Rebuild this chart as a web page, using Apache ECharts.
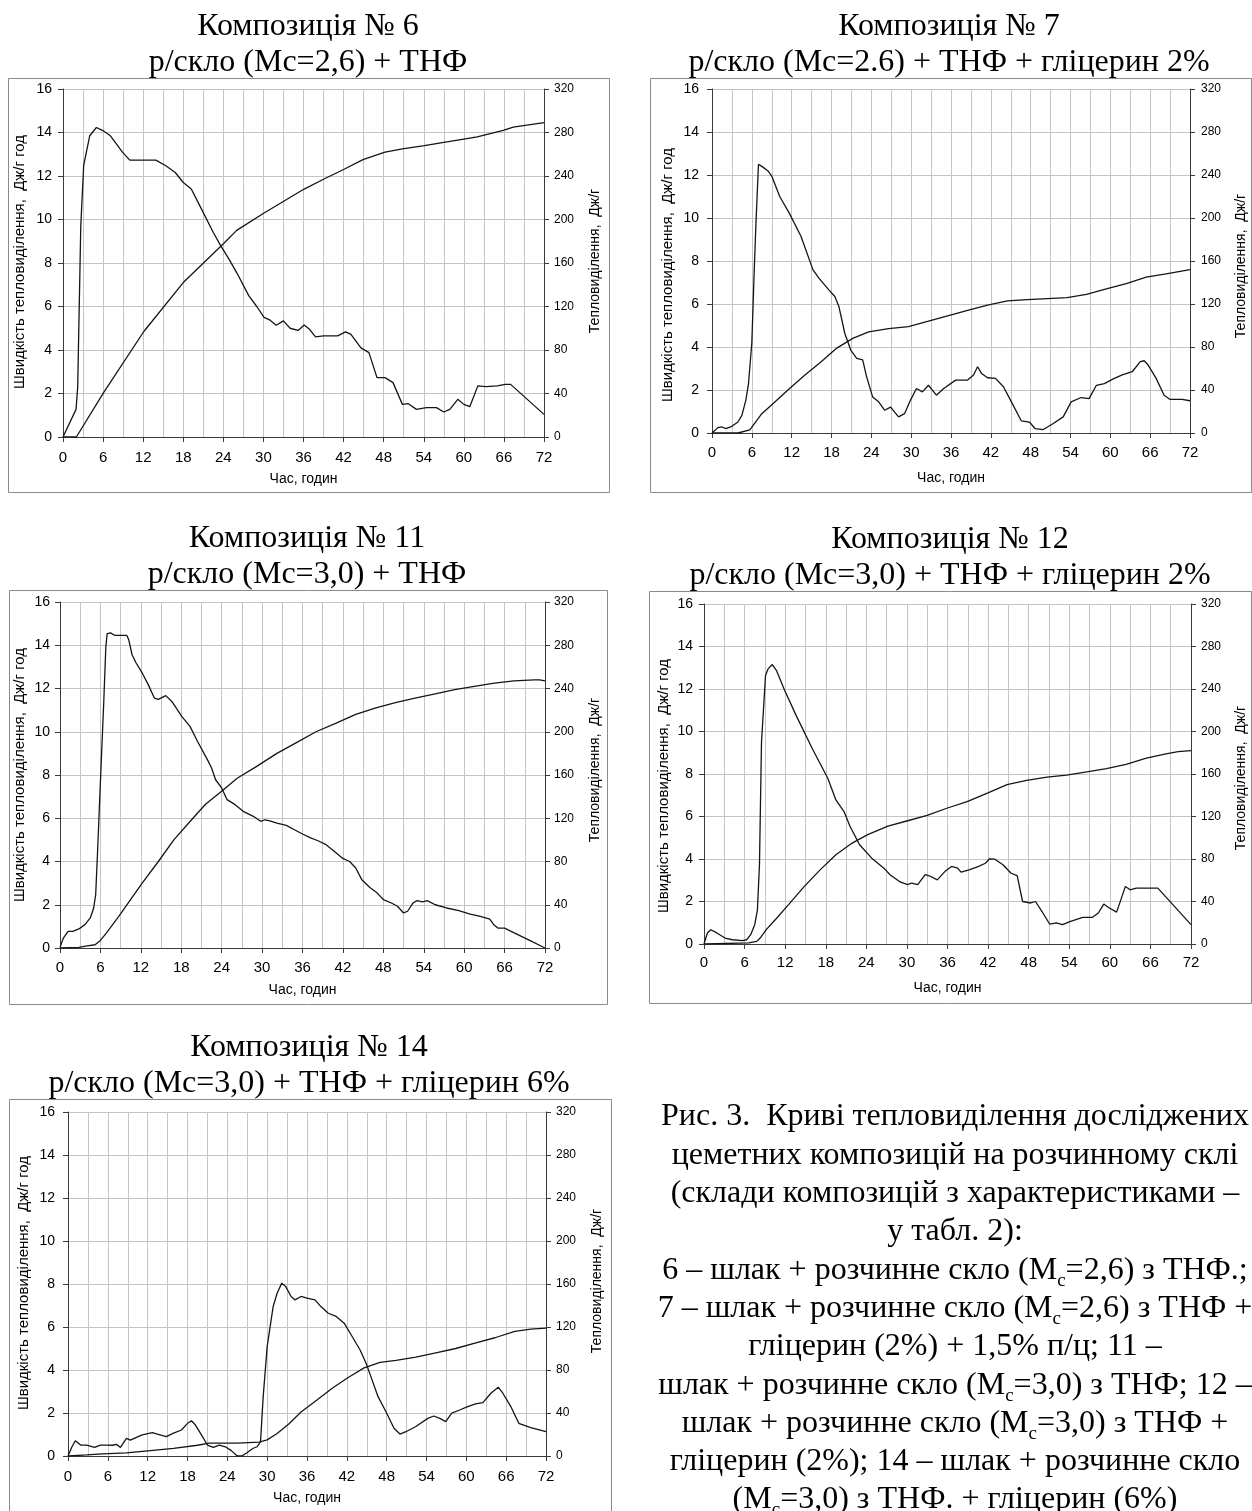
<!DOCTYPE html>
<html><head><meta charset="utf-8">
<script src="https://cdn.jsdelivr.net/npm/echarts/dist/echarts.min.js"></script>
<style>html,body{margin:0;padding:0;background:#fff}#c{width:1252px;height:1511px}</style>
</head><body><div id="c"></div>
<script>
// ---------- DATA ----------
const xTicks = [0, 6, 12, 18, 24, 30, 36, 42, 48, 54, 60, 66, 72];
const rateTicks = [0, 2, 4, 6, 8, 10, 12, 14, 16];
const heatTicks = [0, 40, 80, 120, 160, 200, 240, 280, 320];

const xTitle = 'Час, годин';
const rateTitle = 'Швидкість тепловиділення,  Дж/г год';
const heatTitle = 'Тепловиділення,  Дж/г';

const titles1 = ['Композиція № 6', 'Композиція № 7', 'Композиція № 11', 'Композиція № 12', 'Композиція № 14'];
const titles2 = ['р/скло (Мс=2,6) + ТНФ', 'р/скло (Мс=2.6) + ТНФ + гліцерин 2%', 'р/скло (Мс=3,0) + ТНФ',
                 'р/скло (Мс=3,0) + ТНФ + гліцерин 2%', 'р/скло (Мс=3,0) + ТНФ + гліцерин 6%'];

const rate6 = [[0,0],[1.95,1.27],[2.2,2.3],[2.66,9.7],[3.1,12.5],[4.0,13.85],[5.0,14.23],[5.9,14.1],[7.1,13.85],[8.9,13.1],[10.0,12.73],[13.9,12.73],[15.4,12.47],[16.8,12.16],[18.0,11.7],[19.2,11.4],[20.7,10.5],[22.5,9.4],[23.6,8.8],[24.8,8.2],[26,7.56],[27.8,6.5],[29.0,6.0],[30.1,5.5],[31.0,5.37],[31.9,5.14],[33.0,5.34],[34.0,5.0],[35.2,4.9],[36.1,5.15],[36.9,4.95],[37.8,4.6],[39.0,4.65],[41.1,4.65],[42.3,4.83],[43.1,4.72],[44.6,4.1],[45.8,3.88],[47.0,2.73],[48.2,2.73],[49.4,2.5],[50.8,1.5],[51.7,1.53],[52.9,1.27],[54.4,1.35],[55.9,1.35],[57.0,1.15],[57.9,1.27],[59.1,1.73],[60.0,1.5],[60.9,1.4],[62.1,2.35],[63.3,2.32],[65.0,2.35],[66.2,2.42],[67.0,2.42],[72,1.04]];
const heat6 = [[0,0],[2,0],[6.1,41],[12.1,97],[18,142],[23.9,177],[26,190],[30.1,206],[33.1,217],[36.1,228],[39,237],[42,246],[44.9,255],[48.2,262],[50.8,265],[54.1,268],[57,271],[60,274],[62,276],[65.9,282],[67.4,285],[72,289]];

const rate7 = [[0,0],[0.9,0.25],[1.5,0.28],[2.1,0.2],[3.0,0.31],[3.9,0.51],[4.5,0.82],[5.1,1.53],[5.5,2.3],[6.0,4.2],[6.3,7.0],[6.6,9.6],[7.0,12.5],[7.5,12.4],[8.4,12.2],[9.0,11.95],[10.2,11.0],[11.6,10.25],[13.4,9.15],[15.2,7.6],[16.1,7.2],[17.6,6.66],[18.5,6.35],[19.1,5.9],[20.0,4.64],[20.9,3.86],[21.8,3.47],[22.7,3.4],[23.3,2.6],[24.2,1.68],[25.1,1.45],[26.0,1.06],[26.9,1.2],[28.1,0.75],[29.0,0.9],[29.9,1.53],[30.8,2.07],[31.7,1.91],[32.6,2.22],[33.8,1.76],[34.9,2.07],[36.7,2.46],[38.5,2.46],[39.4,2.7],[40.0,3.08],[40.6,2.77],[41.5,2.57],[42.7,2.54],[43.9,2.15],[45.1,1.45],[46.6,0.56],[47.8,0.51],[48.7,0.2],[49.9,0.16],[51.4,0.44],[52.9,0.75],[54.1,1.45],[55.6,1.65],[56.8,1.6],[57.9,2.22],[59.1,2.3],[60.6,2.54],[61.8,2.7],[63.3,2.85],[64.5,3.32],[65.1,3.36],[65.7,3.16],[66.9,2.54],[68.1,1.76],[69.0,1.56],[70.8,1.56],[72,1.5]];
const heat7 = [[0,0],[3.9,0],[5.7,3],[6.0,4.7],[7.5,18],[9.3,28],[11.6,41],[14.0,54],[16.4,66],[18.8,79],[21.2,88],[23.6,94],[26.6,97],[29.6,99],[32.6,104],[35.5,109],[38.5,114],[41.5,119],[44.5,123],[47.5,124],[50.5,125],[53.5,126],[56.4,129],[59.4,134],[62.4,139],[65.4,145],[68.4,148],[72,152]];

const rate11 = [[0,0.03],[0.5,0.46],[1.2,0.77],[1.9,0.77],[2.8,0.88],[3.7,1.08],[4.5,1.39],[5.0,1.85],[5.3,2.47],[5.6,4.62],[6.0,7.7],[6.5,11.4],[6.8,13.9],[7.0,14.54],[7.5,14.57],[8.1,14.46],[9.9,14.46],[10.2,14.26],[10.7,13.56],[11.3,13.18],[12.2,12.72],[13.1,12.18],[14.0,11.56],[14.6,11.5],[15.7,11.67],[16.6,11.4],[18.1,10.7],[19.3,10.25],[20.4,9.56],[21.9,8.7],[22.5,8.32],[23.1,7.78],[24.0,7.4],[24.8,6.86],[26.0,6.63],[27.2,6.32],[28.7,6.09],[29.8,5.86],[30.4,5.93],[31.0,5.89],[32.2,5.78],[33.6,5.67],[34.8,5.47],[36.0,5.27],[37.2,5.09],[38.3,4.96],[39.5,4.78],[40.7,4.47],[41.9,4.16],[43.0,4.0],[43.9,3.7],[44.8,3.16],[46.0,2.8],[47.1,2.54],[48.0,2.24],[49.2,2.08],[50.1,1.93],[51.0,1.62],[51.6,1.7],[52.4,2.08],[53.0,2.19],[53.8,2.13],[54.5,2.19],[55.7,2.0],[57.4,1.85],[59.2,1.73],[60.9,1.57],[62.4,1.46],[63.8,1.34],[64.4,1.08],[65.0,0.92],[66.0,0.92],[67.5,0.69],[69.8,0.34],[72,0]];
const heat11 = [[0,0],[2.8,0.6],[4.0,2],[5.2,3],[6.0,7],[6.9,14],[8.7,29],[10.5,45],[12.2,60],[14.6,80],[16.9,100],[19.3,117],[21.6,133],[24.0,145],[26.3,157],[29.2,168],[32.2,180],[35.1,190],[38.0,200],[41.0,208],[43.9,216],[46.9,222],[49.8,227],[52.7,231],[55.7,235],[58.6,239],[61.5,242],[64.5,245],[67.4,247],[70.4,248],[71.2,248],[72,247]];

const rate12 = [[0,0],[0.5,0.52],[1.0,0.67],[1.9,0.52],[3.1,0.28],[4.2,0.2],[5.7,0.16],[6.3,0.2],[6.9,0.44],[7.5,0.91],[7.9,1.61],[8.2,3.73],[8.5,9.5],[9.1,12.65],[9.5,12.96],[10.1,13.15],[10.7,12.88],[11.9,11.95],[13.6,10.77],[16.0,9.2],[18.3,7.8],[19.5,6.78],[20.7,6.23],[21.6,5.53],[23.0,4.67],[24.8,4.04],[26.6,3.57],[27.5,3.26],[28.9,2.94],[30.1,2.79],[30.7,2.87],[31.6,2.79],[32.7,3.26],[33.3,3.21],[34.5,3.02],[35.7,3.44],[36.6,3.65],[37.5,3.57],[38.0,3.38],[39.2,3.49],[40.6,3.65],[41.6,3.8],[42.2,4.0],[43.0,3.99],[44.2,3.73],[45.4,3.33],[46.3,3.22],[47.1,2.0],[48.3,1.93],[49.0,2.0],[50.1,1.46],[51.1,0.94],[52.1,0.99],[53.0,0.91],[54.2,1.06],[56.0,1.25],[57.4,1.25],[58.3,1.46],[59.1,1.88],[59.8,1.72],[61.0,1.5],[61.8,2.24],[62.3,2.71],[63.0,2.55],[63.9,2.63],[67.1,2.63],[72,0.91]];
const heat12 = [[0,0],[6.6,1],[7.8,2.5],[8.3,5.6],[9.2,13.5],[10.7,24],[12.5,37],[14.8,54],[17.2,70],[19.5,84],[21.9,95],[24.2,103],[27.2,111],[30.1,116],[33.0,121],[36.0,128],[38.9,134],[41.9,142],[44.8,150],[47.7,154],[50.7,157],[53.6,159],[56.6,162],[59.5,165],[62.4,169],[65.4,175],[68.3,179],[70.1,181],[72,182]];

const rate14 = [[0,0],[0.6,0.43],[1.1,0.71],[1.9,0.51],[2.8,0.51],[4.0,0.4],[4.9,0.51],[5.8,0.51],[6.7,0.5],[7.3,0.54],[7.9,0.4],[8.8,0.82],[9.4,0.74],[10.3,0.87],[11.2,0.98],[12.7,1.09],[13.6,1.01],[14.8,0.9],[15.9,1.06],[17.1,1.21],[18.0,1.52],[18.6,1.64],[19.2,1.44],[20.1,0.98],[21.0,0.51],[21.9,0.4],[22.8,0.51],[23.7,0.43],[24.6,0.25],[25.5,0],[26.2,0],[27.0,0.16],[27.9,0.36],[28.5,0.43],[29.0,0.67],[29.4,2.76],[30.0,5.09],[30.9,6.95],[31.5,7.57],[32.2,8.04],[32.8,7.88],[33.6,7.42],[34.2,7.26],[35.1,7.42],[36.0,7.34],[37.2,7.26],[38.1,6.95],[39.2,6.64],[40.4,6.49],[41.6,6.18],[42.8,5.56],[44.0,4.93],[44.9,4.31],[45.8,3.54],[46.7,2.76],[47.9,2.06],[49.1,1.29],[50.0,1.02],[50.9,1.13],[52.4,1.37],[54.2,1.75],[55.1,1.86],[56.0,1.75],[56.9,1.6],[57.8,1.99],[59.0,2.14],[60.2,2.3],[61.4,2.42],[62.5,2.48],[63.7,2.92],[64.8,3.2],[65.5,2.92],[66.7,2.3],[67.9,1.52],[69.7,1.32],[72,1.13]];
const heat14 = [[0,0],[2.8,1],[5.2,2],[8.8,3],[12.4,5],[15.9,7],[19.5,10],[21.3,12],[25.5,12],[28.8,13],[30.0,15],[31.5,21],[33.3,30],[35.1,41],[37.5,52],[39.8,63],[42.2,73],[44.6,82],[47.0,87],[49.4,89],[52.4,92],[55.4,96],[58.4,100],[61.3,105],[64.3,110],[67.3,116],[69.7,118],[72,119]];

const captionLines = [
  'Рис. 3.  Криві тепловиділення досліджених',
  'цеметних композицій на розчинному склі',
  '(склади композицій з характеристиками –',
  'у табл. 2):',
  '6 – шлак + розчинне скло (M{sub|c}=2,6) з ТНФ.;',
  '7 – шлак + розчинне скло (M{sub|c}=2,6) з ТНФ +',
  'гліцерин (2%) + 1,5% п/ц; 11 –',
  'шлак + розчинне скло (M{sub|c}=3,0) з ТНФ; 12 –',
  'шлак + розчинне скло (M{sub|c}=3,0) з ТНФ +',
  'гліцерин (2%); 14 – шлак + розчинне скло',
  '(M{sub|c}=3,0) з ТНФ. + гліцерин (6%)'
];

const rates = [rate6, rate7, rate11, rate12, rate14];
const heats = [heat6, heat7, heat11, heat12, heat14];

// ---------- LAYOUT (pixels) ----------
const layout = [
  {frame:[8,78,609,492],   grid:[63,89,544,437],    tx:308, t1:27,   t2:63,   lt:[20,262],   rt:[595,261],   xg:35, lm:11, rm:10, xm:13},
  {frame:[650,78,1251,492],grid:[712,89,1190,433],  tx:949, t1:27,   t2:63,   lt:[668,275],  rt:[1241,266],  xg:38, lm:13, rm:11, xm:12},
  {frame:[9,590,607,1004], grid:[60,602,545,948],   tx:307, t1:539,  t2:575,  lt:[20,775],   rt:[595,770],   xg:35, lm:10, rm:9,  xm:12},
  {frame:[649,591,1251,1003],grid:[704,604,1191,944],tx:950,t1:540,  t2:576,  lt:[664,786],  rt:[1241,778],  xg:37, lm:11, rm:10, xm:11},
  {frame:[9,1099,611,1530],grid:[68,1112,546,1456], tx:309, t1:1048, t2:1084, lt:[24,1283],  rt:[597,1281],  xg:35, lm:13, rm:10, xm:13}
];

const SANS = '"Liberation Sans", Arial, sans-serif';
const SERIF = '"Liberation Serif", "Times New Roman", serif';
const GRID_C = '#c4c4c4';
const AXIS_C = '#3a3a3a';

const grids = [], xAxes = [], yAxes = [], series = [], graphics = [];

layout.forEach((L, i) => {
  const [gl, gt, gr, gb] = L.grid;
  grids.push({left: gl, top: gt, width: gr - gl, height: gb - gt, containLabel: false, outerBoundsMode: 'none'});
  xAxes.push({
    type: 'value', gridIndex: i, min: xTicks[0], max: xTicks[xTicks.length - 1], interval: xTicks[1] - xTicks[0],
    axisLine: {show: true, onZero: false, lineStyle: {color: AXIS_C, width: 1}},
    axisTick: {show: true, inside: false, length: 5, lineStyle: {color: AXIS_C}},
    minorTick: {show: false, splitNumber: 2},
    minorSplitLine: {show: true, lineStyle: {color: GRID_C, width: 1}},
    splitLine: {show: true, lineStyle: {color: GRID_C, width: 1}},
    axisLabel: {margin: L.xm, fontSize: 15, color: '#000', fontFamily: SANS},
    name: xTitle, nameLocation: 'middle', nameGap: L.xg,
    nameTextStyle: {fontSize: 14, color: '#000', fontFamily: SANS}
  });
  yAxes.push({
    type: 'value', gridIndex: i, position: 'left', min: rateTicks[0], max: rateTicks[rateTicks.length - 1], interval: rateTicks[1] - rateTicks[0],
    axisLine: {show: true, lineStyle: {color: AXIS_C, width: 1}},
    axisTick: {show: true, inside: false, length: 5, lineStyle: {color: AXIS_C}},
    splitLine: {show: true, lineStyle: {color: GRID_C, width: 1}},
    axisLabel: {margin: L.lm, fontSize: 14, color: '#000', fontFamily: SANS}
  });
  yAxes.push({
    type: 'value', gridIndex: i, position: 'right', min: heatTicks[0], max: heatTicks[heatTicks.length - 1], interval: heatTicks[1] - heatTicks[0],
    axisLine: {show: true, lineStyle: {color: AXIS_C, width: 1}},
    axisTick: {show: true, inside: false, length: 5, lineStyle: {color: AXIS_C}},
    splitLine: {show: false},
    axisLabel: {margin: L.rm, fontSize: 12, color: '#000', fontFamily: SANS}
  });
  const lineStyle = {color: '#151515', width: 1.3};
  series.push({type: 'line', name: 'rate', xAxisIndex: i, yAxisIndex: 2 * i, data: rates[i], showSymbol: false, symbol: 'none', lineStyle, silent: true, animation: false});
  series.push({type: 'line', name: 'heat', xAxisIndex: i, yAxisIndex: 2 * i + 1, data: heats[i], showSymbol: false, symbol: 'none', lineStyle, silent: true, animation: false});

  const [fx0, fy0, fx1, fy1] = L.frame;
  graphics.push({type: 'rect', silent: true, z: -1,
    shape: {x: fx0 + 0.5, y: fy0 + 0.5, width: fx1 - fx0, height: fy1 - fy0},
    style: {fill: 'none', stroke: '#8a8a8a', lineWidth: 1}});
  [[titles1[i], L.t1], [titles2[i], L.t2]].forEach(([t, y]) => {
    graphics.push({type: 'text', x: L.tx, y: y, silent: true,
      style: {text: t, fontSize: 32, fontFamily: SERIF, fill: '#000', align: 'center', verticalAlign: 'middle', textAlign: 'center', textVerticalAlign: 'middle'}});
  });
  graphics.push({type: 'text', x: L.lt[0], y: L.lt[1], rotation: Math.PI / 2, silent: true,
    style: {text: rateTitle, fontSize: 15, fontFamily: SANS, fill: '#000', align: 'center', verticalAlign: 'middle', textAlign: 'center', textVerticalAlign: 'middle'}});
  graphics.push({type: 'text', x: L.rt[0], y: L.rt[1], rotation: Math.PI / 2, silent: true,
    style: {text: heatTitle, fontSize: 14, fontFamily: SANS, fill: '#000', align: 'center', verticalAlign: 'middle', textAlign: 'center', textVerticalAlign: 'middle'}});
});

captionLines.forEach((t, k) => {
  graphics.push({type: 'text', x: 955, y: 1117 + 38.3 * k, silent: true,
    style: {text: t, fontSize: 32, fontFamily: SERIF, fill: '#000', align: 'center', verticalAlign: 'middle', textAlign: 'center', textVerticalAlign: 'middle',
      rich: {sub: {fontSize: 19, fontFamily: SERIF, fill: '#000', verticalAlign: 'bottom', padding: [0, 0, -4, 0]}}}});
});

const chart = echarts.init(document.getElementById('c'), null, {renderer: 'canvas', width: 1252, height: 1511});
chart.setOption({
  animation: false,
  backgroundColor: '#fff',
  grid: grids, xAxis: xAxes, yAxis: yAxes, series: series,
  graphic: {elements: graphics}
});
</script></body></html>
